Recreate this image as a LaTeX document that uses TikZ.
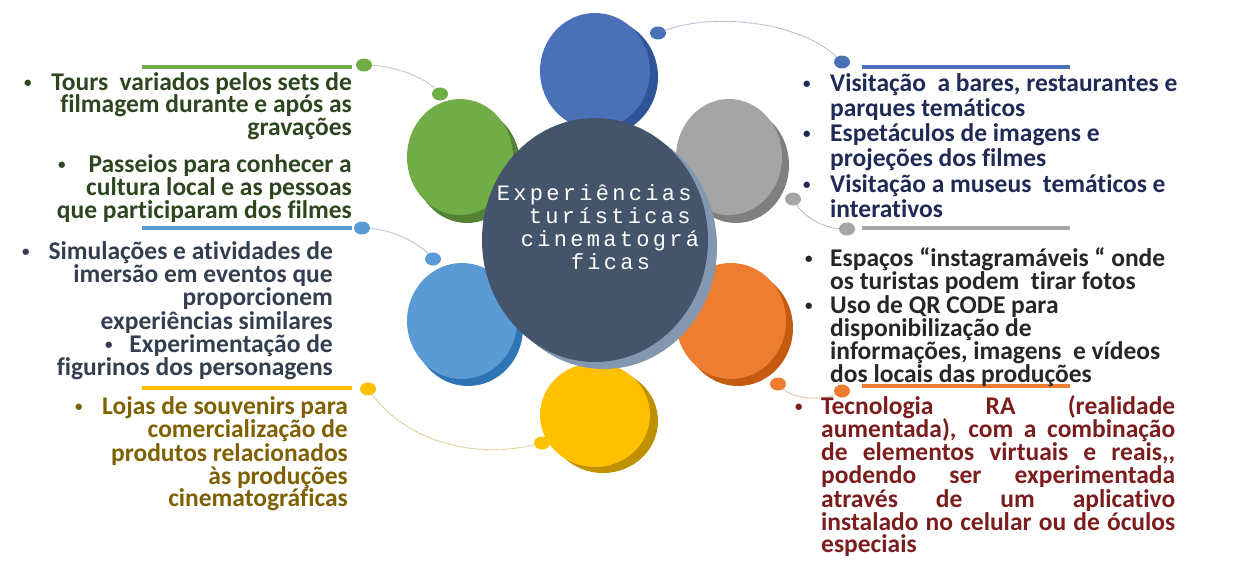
\documentclass[tikz,border=0pt]{standalone}
\usepackage{fontspec}
\setmainfont{Carlito}[Ligatures={NoCommon}]
\newfontfamily\monofnt{Liberation Mono}
\usetikzlibrary{shapes.geometric}
\definecolor{cBlue}{HTML}{4A70B8}
\definecolor{sBlue}{HTML}{2F5597}
\definecolor{cGreen}{HTML}{70AD47}
\definecolor{sGreen}{HTML}{548235}
\definecolor{cGray}{HTML}{A5A5A5}
\definecolor{sGray}{HTML}{7F7F7F}
\definecolor{cLBlue}{HTML}{5B9BD5}
\definecolor{sLBlue}{HTML}{2E75B6}
\definecolor{cOrange}{HTML}{ED7D31}
\definecolor{sOrange}{HTML}{C55A11}
\definecolor{cYellow}{HTML}{FFC000}
\definecolor{sYellow}{HTML}{BF9000}
\definecolor{cCenter}{HTML}{44546A}
\definecolor{sCenter}{HTML}{8497B0}
\definecolor{tGreen}{HTML}{2E4620}
\definecolor{tBlueL}{HTML}{333F50}
\definecolor{tYellow}{HTML}{7F6000}
\definecolor{tBlueR}{HTML}{1F2A56}
\definecolor{tGray}{HTML}{262626}
\definecolor{tRed}{HTML}{7B1D1D}
\definecolor{lnBlue}{HTML}{A9B4C8}
\definecolor{lnGreen}{HTML}{B5BFA8}
\definecolor{lnGray}{HTML}{B0B0B0}
\definecolor{lnLBlue}{HTML}{A8B8CC}
\definecolor{lnOrange}{HTML}{D9B8A0}
\definecolor{lnYellow}{HTML}{D8C88A}
\newcommand\spacedtxt[1]{\spacedloop#1\relax}
\def\spacedloop#1{\ifx\relax#1\else\makebox[16.5pt][c]{#1}\expandafter\spacedloop\fi}
\tikzset{
  txt/.style={font=\fontsize{25.5}{25}\selectfont\bfseries, inner sep=0pt},
  ltx/.style={txt, anchor=base east},
  rtx/.style={txt, anchor=base west},
  bul/.style={font=\fontsize{15}{15}\selectfont\bfseries, inner sep=0pt, anchor=base west, yshift=3pt},
  ctx/.style={font=\monofnt\fontsize{22}{22}\selectfont, text=white, inner sep=0pt, anchor=base west},
  dot/.style={ellipse, minimum width=16pt, minimum height=13pt, inner sep=0pt, draw=none},
  conn/.style={line width=1pt, dash pattern=on 1.2pt off 0.6pt},
  bar/.style={line width=4pt},
}
\begin{document}
\begin{tikzpicture}[x=1pt,y=-1pt]
\useasboundingbox (0,0) rectangle (1240,562);
% outer circles: shadow then body
\fill[sBlue]   (603,77)  ellipse [x radius=55, y radius=58];
\fill[cBlue]   (595,71)  ellipse [x radius=55, y radius=58];
\fill[sGreen]  (467,165) ellipse [x radius=53, y radius=58];
\fill[cGreen]  (460,157) ellipse [x radius=53, y radius=58];
\fill[sGray]   (736,165) ellipse [x radius=53, y radius=58];
\fill[cGray]   (729,157) ellipse [x radius=53, y radius=58];
\fill[sLBlue]  (468,328) ellipse [x radius=55, y radius=58];
\fill[cLBlue]  (462,321) ellipse [x radius=55, y radius=58];
\fill[sOrange] (738,328) ellipse [x radius=55, y radius=58];
\fill[cOrange] (731,321) ellipse [x radius=55, y radius=58];
\fill[sYellow] (603,421) ellipse [x radius=55, y radius=52];
\fill[cYellow] (595,415) ellipse [x radius=55, y radius=52];
% centre
\fill[sCenter] (604,247) ellipse [x radius=113, y radius=122];
\fill[cCenter] (595,240) ellipse [x radius=113, y radius=122];
\node[ctx] (c1) at (495,200) {\spacedtxt{Experiências}};
\node[ctx] (c2) at (527,223) {\spacedtxt{turísticas}};
\node[ctx] (c3) at (519,246) {\spacedtxt{cinematográ}};
\node[ctx] (c4) at (569,269) {\spacedtxt{ficas}};
% dots
\node[dot, fill=cBlue]   (bd1) at (658,33) {};
\node[dot, fill=cBlue]   (bd2) at (842,62) {};
\node[dot, fill=cGreen]  (gd1) at (364,65) {};
\node[dot, fill=cGreen]  (gd2) at (440,94) {};
\node[dot, fill=cGray]   (sd1) at (793,199) {};
\node[dot, fill=cGray]   (sd2) at (847,229) {};
\node[dot, fill=cLBlue]  (ld1) at (362,228) {};
\node[dot, fill=cLBlue]  (ld2) at (433,259) {};
\node[dot, fill=cOrange] (od1) at (778,384) {};
\node[dot, fill=cOrange] (od2) at (842,391) {};
\node[dot, fill=cYellow] (yd1) at (368,389) {};
\node[dot, fill=cYellow] (yd2) at (542,443) {};
% connectors
\draw[conn, lnBlue]   (bd1) .. controls (715,12) and (800,22) .. (bd2);
\draw[conn, lnGreen]  (gd1) .. controls (395,66) and (425,78) .. (gd2);
\draw[conn, lnGray]   (sd1) .. controls (805,218) and (825,228) .. (sd2);
\draw[conn, lnLBlue]  (ld1) .. controls (395,230) and (420,245) .. (ld2);
\draw[conn, lnOrange] (od1) .. controls (795,400) and (825,400) .. (od2);
\draw[conn, lnYellow] (yd1) .. controls (410,445) and (480,458) .. (yd2);
% bars
\draw[bar, cGreen]  (142,67)  -- (352,67);
\draw[bar, cLBlue]  (142,228) -- (352,228);
\draw[bar, cYellow] (142,388) -- (352,388);
\draw[bar, cBlue]   (862,67)  -- (1070,67);
\draw[bar, cGray]   (862,228) -- (1070,228);
\draw[bar, cOrange] (862,386) -- (1070,386);
% left green text
\begin{scope}[text=tGreen]
\node[bul] (gb1) at (24,90) {•};
\node[ltx] (g1) at (352,90)  {Tours\ \ variados pelos sets de};
\node[ltx] (g2) at (352,112) {filmagem durante e após as};
\node[ltx] (g3) at (352,135) {gravações};
\node[bul] (gb2) at (58,172) {•};
\node[ltx] (g4) at (352,172) {Passeios para conhecer a};
\node[ltx] (g5) at (352,195) {cultura local e as pessoas};
\node[ltx] (g6) at (352,218) {que participaram dos filmes};
\end{scope}
% left blue text
\begin{scope}[text=tBlueL]
\node[bul] (lb1) at (22,259) {•};
\node[ltx] (l1) at (333,259) {Simulações e atividades de};
\node[ltx] (l2) at (333,282) {imersão em eventos que};
\node[ltx] (l3) at (333,305) {proporcionem};
\node[ltx] (l4) at (333,329) {experiências similares};
\node[bul] (lb2) at (105,352) {•};
\node[ltx] (l5) at (333,352) {Experimentação de};
\node[ltx] (l6) at (333,375) {figurinos dos personagens};
\end{scope}
% left yellow text
\begin{scope}[text=tYellow]
\node[bul] (yb1) at (75,414) {•};
\node[ltx] (y1) at (348,414) {Lojas de souvenirs para};
\node[ltx] (y2) at (348,437) {comercialização de};
\node[ltx] (y3) at (348,461) {produtos relacionados};
\node[ltx] (y4) at (348,484) {às produções};
\node[ltx] (y5) at (348,506) {cinematográficas};
\end{scope}
% right blue text
\begin{scope}[text=tBlueR]
\node[bul] (rb1) at (803,91) {•};
\node[rtx] (r1) at (830,91)  {Visitação\ \ a bares, restaurantes e};
\node[rtx] (r2) at (830,116) {parques temáticos};
\node[bul] (rb2) at (803,141) {•};
\node[rtx] (r3) at (830,141) {Espetáculos de imagens e};
\node[rtx] (r4) at (830,166) {projeções dos filmes};
\node[bul] (rb3) at (803,192) {•};
\node[rtx] (r5) at (830,192) {Visitação a museus\ \ temáticos e};
\node[rtx] (r6) at (830,217) {interativos};
\end{scope}
% right gray text
\begin{scope}[text=tGray]
\node[bul] (sb1) at (805,266) {•};
\node[rtx] (s1) at (830,266) {Espaços “instagramáveis “ onde};
\node[rtx] (s2) at (830,289) {os turistas podem\ \ tirar fotos};
\node[bul] (sb2) at (805,313) {•};
\node[rtx] (s3) at (830,313) {Uso de QR CODE para};
\node[rtx] (s4) at (830,336) {disponibilização de};
\node[rtx] (s5) at (830,359) {informações, imagens\ \ e vídeos};
\node[rtx] (s6) at (830,382) {dos locais das produções};
\end{scope}
% right red text
\begin{scope}[text=tRed]
\node[bul] (tb1) at (795,414) {•};
\node[rtx] (t1) at (821,414) {\makebox[354pt][s]{Tecnologia RA (realidade}};
\node[rtx] (t2) at (821,437) {\makebox[354pt][s]{aumentada), com a combinação}};
\node[rtx] (t3) at (821,460) {\makebox[354pt][s]{de elementos virtuais e reais,\kern0pt,}};
\node[rtx] (t4) at (821,483) {\makebox[354pt][s]{podendo ser experimentada}};
\node[rtx] (t5) at (821,507) {\makebox[354pt][s]{através de um aplicativo}};
\node[rtx] (t6) at (821,530) {\makebox[354pt][s]{instalado no celular ou de óculos}};
\node[rtx] (t7) at (821,552) {especiais};
\end{scope}
\end{tikzpicture}
\end{document}
